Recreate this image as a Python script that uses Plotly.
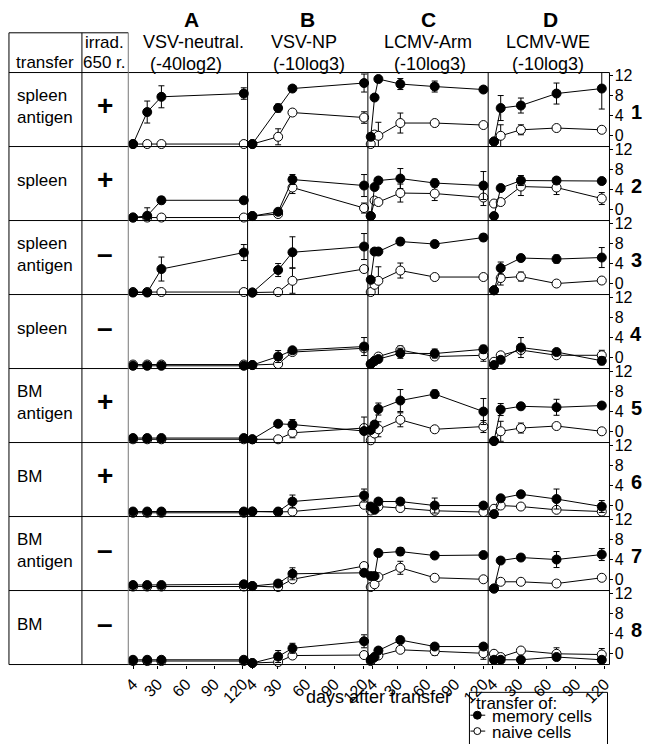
import plotly.graph_objects as go

W, H = 646, 744
FONT = "Arial, Liberation Sans, sans-serif"

# ---------------- data ----------------
DAYS_A = [4, 19, 34, 121]
DAYS_B = [4, 31, 46, 121]
DAYS_C = [2, 6, 10, 33, 69, 120]
DAYS_D = [5, 12, 33, 70, 117]

X_TICKS = [4, 30, 60, 90, 120]
Y_TICKS = [0, 4, 8, 12]

ROW_TRANSFER = ["spleen<br>antigen", "spleen", "spleen<br>antigen", "spleen",
                "BM<br>antigen", "BM", "BM<br>antigen", "BM"]
ROW_IRRAD = ["+", "+", "–", "–", "+", "+", "–", "–"]
ROW_NUMBERS = ["1", "2", "3", "4", "5", "6", "7", "8"]

COL_LETTERS = ["A", "B", "C", "D"]
COL_TITLES = ["VSV-neutral.", "VSV-NP", "LCMV-Arm", "LCMV-WE"]
COL_UNITS = ["(-40log2)", "(-10log3)", "(-10log3)", "(-10log3)"]

# memory cells (filled)
MEM_A = [[-1.7, 4.7, 7.75, 8.4], [-1.6, -1.25, 1.85, 1.85], [-1.8, -1.8, 2.9, 6.2],
         [-1.65, -1.65, -1.65, -1.65], [-1.3, -1.3, -1.3, -1.3], [-1.2, -1.2, -1.2, -1.2],
         [-1.1, -1.1, -1.1, -0.95], [-1.25, -1.25, -1.25, -1.25]]
MEM_A_ERR = [[0, 2.2, 2.2, 1.15], [0, 1.6, 0.7, 0], [0, 0, 2.4, 1.6], [0, 0, 0, 0],
             [0, 0, 0, 0], [0, 0, 0, 0], [0, 0, 0, 0], [0, 0, 0, 0]]
MEM_B = [[-1.7, 5.5, 9.4, 10.5], [-1.3, -0.45, 6.0, 4.8], [-1.8, 2.7, 6.25, 7.4],
         [-1.5, 0.2, 1.45, 2.2], [-1.55, 1.55, 1.4, 0.1], [-1.2, -1.2, 0.8, 2.0],
         [-1.3, -0.8, 1.15, 1.35], [-1.9, -0.6, 1.05, 2.45]]
MEM_B_ERR = [[0, 0.8, 0.5, 1.8], [0, 0, 1.0, 2.2], [0, 1.3, 3.1, 2.6], [0, 1.2, 0, 1.8],
             [0, 0, 1.0, 2.8], [0, 0, 1.3, 1.3], [0, 0, 1.2, 0], [0, 1.2, 1.0, 1.3]]
MEM_C = [[-0.25, 7.6, 11.3, 10.3, 9.8, 9.2], [-1.3, 4.5, 5.8, 6.2, 5.3, 4.8],
         [0.75, 6.4, 6.4, 8.4, 7.9, 9.2], [-1.3, -0.65, -0.3, 0.85, 0.8, 1.65],
         [0.3, 1.4, 4.5, 6.2, 7.5, 4.0], [-0.2, -0.85, 0.8, 0.8, 0.0, 0.0],
         [0.7, 0.7, 5.3, 5.6, 4.8, 4.9], [-1.25, -0.7, 0.6, 2.7, 1.4, 1.4]]
MEM_C_ERR = [[0, 0, 0, 1.1, 1.1, 0.5], [0, 0, 0, 2.0, 0.8, 2.8], [0, 0.5, 0, 0.7, 0.6, 0.7],
             [0, 0, 0, 1.0, 0.9, 0.8], [0, 0, 1.2, 2.2, 0.8, 2.6], [0, 0, 0, 0, 1.5, 0],
             [0, 0, 0, 0.8, 0, 0], [0, 0, 0, 0.6, 0, 0]]
MEM_D = [[-1.2, 5.5, 6.0, 8.4, 9.4], [-1.3, 4.3, 5.8, 5.8, 5.7], [-1.35, 3.1, 5.1, 4.9, 5.2],
         [-1.5, -0.45, 2.0, 1.1, -0.65], [-1.9, 4.4, 5.05, 4.85, 5.2],
         [-1.7, 1.45, 2.25, 1.3, -0.2], [-1.8, 3.8, 4.4, 4.0, 5.0],
         [-1.25, -1.25, -1.25, -0.7, -1.25]]
MEM_D_ERR = [[0, 2.5, 1.5, 2.1, 4.1], [0, 0, 1.0, 0.5, 0.5], [0, 1.2, 0.5, 0.8, 2.0],
             [0, 0, 2.0, 0, 0.8], [0, 1.2, 0, 1.6, 0], [0, 0, 0.6, 2.0, 1.2],
             [0, 0, 0.6, 1.6, 1.2], [0, 0, 0, 0, 0]]

# naive cells (open)
NAI_A = [[-1.7, -1.7, -1.7, -1.7], [-1.6, -1.6, -1.6, -1.6], [-1.7, -1.7, -1.7, -1.7],
         [-1.4, -1.4, -1.4, -1.4], [-1.55, -1.55, -1.55, -1.55], [-1.45, -1.45, -1.45, -1.45],
         [-1.4, -1.4, -1.4, -1.4], [-1.5, -1.5, -1.5, -1.5]]
NAI_A_ERR = [[0, 0, 0, 0]] * 8
NAI_B = [[-1.7, -0.25, 4.6, 3.6], [-1.3, -0.9, 4.4, 0.3], [-1.8, -1.7, 0.55, 2.9],
         [-1.5, -1.3, 1.1, 1.85], [-1.55, -1.55, -0.25, 0.7], [-1.2, -1.3, -1.2, 0.15],
         [-1.3, -1.5, 0.05, 2.7], [-1.9, -1.7, -0.4, -0.3]]
NAI_B_ERR = [[0, 1.6, 0.4, 1.15], [0, 0, 1.2, 1.0], [0, 0, 2.5, 0], [0, 0, 0, 0],
             [0, 0, 1.0, 0], [0, 0, 0, 0], [0, 0, 0, 0], [0, 0, 0, 0]]
NAI_C = [[-1.7, 0.2, -0.05, 2.5, 2.5, 2.1], [-1.3, 1.8, 1.5, 3.3, 3.2, 2.4],
         [-1.7, -0.25, 0.55, 2.6, 1.3, 1.3], [-1.3, -0.7, 0.2, 1.5, 0.2, 0.45],
         [-1.75, -0.4, 0.45, 2.35, 0.45, 1.0], [-1.0, -0.6, -0.2, -0.5, -1.05, -1.3],
         [-1.5, -0.95, 0.5, 2.35, 0.35, 0.05], [-1.5, -0.7, -0.4, 0.75, 0.45, 0.05]]
NAI_C_ERR = [[0, 0, 2.7, 2.0, 0, 0], [0, 0, 0, 1.8, 1.4, 1.6], [0, 0, 2.8, 1.5, 0, 0],
             [0, 0, 0, 0.8, 0, 1.2], [0, 0, 1.5, 1.4, 0, 1.2], [0, 0, 0, 0, 0, 0],
             [0, 0, 0, 1.3, 0, 0], [0, 0, 0, 0, 0.8, 1.2]]
NAI_D = [[-1.2, -0.05, 1.15, 1.5, 1.15], [1.2, 1.5, 4.6, 4.4, 2.2], [-1.35, 1.1, 1.4, 0.0, 0.6],
         [-0.85, 0.45, 1.5, 0.45, 0.45], [-1.9, 0.05, 0.7, 1.1, 0.05],
         [-0.65, 0.0, -0.2, -0.85, -1.2], [-1.8, -0.45, -0.45, -0.8, 0.35],
         [-0.05, -0.7, 0.6, -0.05, -0.2]]
NAI_D_ERR = [[0, 2.2, 1.0, 0, 0], [0, 0, 1.8, 1.4, 1.2], [0, 1.4, 0.9, 0, 0],
             [0, 0, 0, 0, 1.0], [0, 2.0, 1.0, 0, 0], [0, 0, 0, 0, 0],
             [0, 0, 0, 0, 0], [0, 0, 0, 1.2, 1.2]]

# ---------------- layout geometry ----------------
COL_LEFT = [124, 245, 367, 489]
COL_RIGHT = [245, 367, 489, 612]
ROW_TOP0 = 68
ROW_H = 74.5
NROWS = 8
XR = [-1, 125]
YR = [-2.2, 12.6]


def px(x):
    return x / W


def py(y):
    return 1 - y / H


DAYS = [DAYS_A, DAYS_B, DAYS_C, DAYS_D]
MEM = [MEM_A, MEM_B, MEM_C, MEM_D]
MEM_ERR = [MEM_A_ERR, MEM_B_ERR, MEM_C_ERR, MEM_D_ERR]
NAI = [NAI_A, NAI_B, NAI_C, NAI_D]
NAI_ERR = [NAI_A_ERR, NAI_B_ERR, NAI_C_ERR, NAI_D_ERR]

fig = go.Figure()
layout = {}

for r in range(NROWS):
    top = ROW_TOP0 + r * ROW_H
    bot = top + ROW_H
    for c in range(4):
        i = r * 4 + c + 1
        xa = "x" if i == 1 else f"x{i}"
        ya = "y" if i == 1 else f"y{i}"
        xkey = "xaxis" if i == 1 else f"xaxis{i}"
        ykey = "yaxis" if i == 1 else f"yaxis{i}"
        last_row = (r == NROWS - 1)
        layout[xkey] = dict(
            domain=[px(COL_LEFT[c]), px(COL_RIGHT[c])], range=XR, anchor=ya,
            showgrid=False, zeroline=False, showline=False, fixedrange=True,
            tickmode="array", tickvals=X_TICKS, ticktext=[str(t) for t in X_TICKS],
            showticklabels=last_row, ticks="outside" if last_row else "",
            ticklen=3, tickcolor="black", tickangle=-45,
            tickfont=dict(family=FONT, size=16, color="black"),
        )
        layout[ykey] = dict(
            domain=[py(bot), py(top)], range=YR, anchor=xa,
            showgrid=False, zeroline=False, showline=False, fixedrange=True,
            side="right",
            tickmode="array", tickvals=Y_TICKS, ticktext=[str(t) for t in Y_TICKS],
            showticklabels=(c == 3), ticks="outside" if c == 3 else "",
            ticklen=3, tickcolor="black", ticklabelstandoff=-2,
            tickfont=dict(family=FONT, size=16, color="black"),
        )
        # naive (open) first, memory (filled) on top
        fig.add_trace(go.Scatter(
            x=DAYS[c], y=NAI[c][r], xaxis=xa, yaxis=ya, mode="lines+markers",
            line=dict(color="black", width=1),
            marker=dict(symbol="circle", size=9, color="white",
                        line=dict(color="black", width=1)),
            error_y=dict(type="data", array=NAI_ERR[c][r], color="black",
                         thickness=1, width=3),
            cliponaxis=False, showlegend=False, hoverinfo="skip"))
        fig.add_trace(go.Scatter(
            x=DAYS[c], y=MEM[c][r], xaxis=xa, yaxis=ya, mode="lines+markers",
            line=dict(color="black", width=1),
            marker=dict(symbol="circle", size=9, color="black",
                        line=dict(color="black", width=1)),
            error_y=dict(type="data", array=MEM_ERR[c][r], color="black",
                         thickness=1, width=3),
            cliponaxis=False, showlegend=False, hoverinfo="skip"))

shapes = []


def hline(y, x0, x1, color="black"):
    shapes.append(dict(type="line", xref="paper", yref="paper",
                       x0=px(x0), x1=px(x1), y0=py(y), y1=py(y),
                       line=dict(color=color, width=1)))


def vline(x, y0, y1, color="black"):
    shapes.append(dict(type="line", xref="paper", yref="paper",
                       x0=px(x), x1=px(x), y0=py(y0), y1=py(y1),
                       line=dict(color=color, width=1)))


BOTTOM = ROW_TOP0 + NROWS * ROW_H
hline(28, 3, 124)
for k in range(NROWS + 1):
    yk = ROW_TOP0 + k * ROW_H
    hline(yk, 3, 612)
vline(3, 28, BOTTOM)
vline(77, 28, BOTTOM)
vline(124, 28, BOTTOM, color="#777777")
for xv in [245, 367, 489, 612]:
    vline(xv, ROW_TOP0, BOTTOM)

# legend box and glyphs
shapes.append(dict(type="rect", xref="paper", yref="paper",
                   x0=px(470), x1=px(610), y0=py(760), y1=py(692),
                   line=dict(color="black", width=1)))
hline(715, 471, 486)
hline(731, 471, 486)
shapes.append(dict(type="circle", xref="paper", yref="paper",
                   x0=px(474), x1=px(482), y0=py(719), y1=py(711),
                   fillcolor="black", line=dict(color="black", width=1)))
shapes.append(dict(type="circle", xref="paper", yref="paper",
                   x0=px(474.5), x1=px(481.5), y0=py(734.5), y1=py(727.5),
                   fillcolor="white", line=dict(color="black", width=1)))

ann = []


def text(x, y, s, size=17, bold=False, xanchor="center", align="center"):
    ann.append(dict(xref="paper", yref="paper", x=px(x), y=py(y), text=s,
                    showarrow=False, xanchor=xanchor, yanchor="middle", align=align,
                    font=dict(family=FONT, size=size, color="black",
                              weight="bold" if bold else "normal")))


LETTER_X = [188, 306, 428, 552]
TITLE_X = [190, 302, 428, 550]
UNIT_X = [183, 307, 430, 550]
for c in range(4):
    text(LETTER_X[c], 15, COL_LETTERS[c], size=21, bold=True)
    text(TITLE_X[c], 37, COL_TITLES[c], size=18)
    text(UNIT_X[c], 59, COL_UNITS[c], size=18)

text(40, 58, "transfer", size=17)
text(100, 38, "irrad.", size=17)
text(100, 58, "650 r.", size=17)

for r in range(NROWS):
    top = ROW_TOP0 + r * ROW_H
    text(9, top + ROW_H / 2 - 3, ROW_TRANSFER[r], size=17, xanchor="left", align="left")
    text(100, top + ROW_H / 2 - 4, ROW_IRRAD[r], size=28, bold=True)
    text(639, top + 40, ROW_NUMBERS[r], size=20, bold=True)

text(378, 697, "days after transfer", size=18)
text(475, 703, "transfer of:", size=17, xanchor="left")
text(491, 716, "memory cells", size=17, xanchor="left")
text(491, 732, "naive cells", size=17, xanchor="left")

fig.update_layout(
    width=W, height=H, margin=dict(l=0, r=0, t=0, b=0),
    paper_bgcolor="white", plot_bgcolor="rgba(0,0,0,0)",
    showlegend=False, hovermode=False, shapes=shapes, annotations=ann, **layout)

fig.write_html("out.html",
               config={"displayModeBar": False, "staticPlot": True},
               post_script="document.body.style.margin='0px';"
                           "document.body.style.overflow='hidden';")
